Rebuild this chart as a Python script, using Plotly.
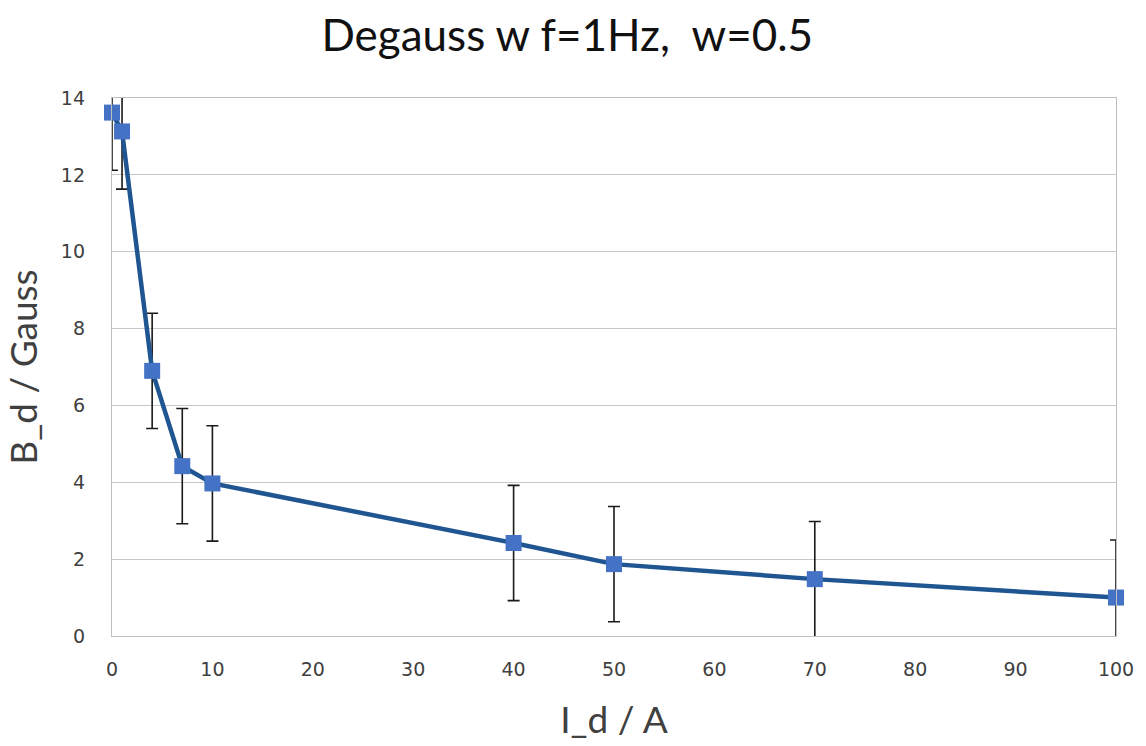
import plotly.graph_objects as go

current_A = [0, 1, 4, 7, 10, 40, 50, 70, 100]
field_gauss = [13.62, 13.13, 6.9, 4.42, 3.97, 2.42, 1.87, 1.48, 1.0]
field_err = [1.5, 1.5, 1.5, 1.5, 1.5, 1.5, 1.5, 1.5, 1.5]
x_ticks = [0, 10, 20, 30, 40, 50, 60, 70, 80, 90, 100]
y_ticks = [0, 2, 4, 6, 8, 10, 12, 14]

FONT = "Lato"
TICKFONT = "DejaVu Sans"
fig = go.Figure()
# error bars (clipped to plot area)
fig.add_trace(go.Scatter(
    x=current_A, y=field_gauss, mode="markers",
    marker=dict(size=1, color="rgba(0,0,0,0)"),
    error_y=dict(type="data", array=field_err, visible=True,
                 color="#1a1a1a", thickness=1.6, width=6),
    cliponaxis=True, showlegend=False, hoverinfo="skip"))
# line + markers
fig.add_trace(go.Scatter(
    x=current_A, y=field_gauss, mode="lines+markers",
    line=dict(color="#1f5591", width=4.5),
    marker=dict(symbol="square", size=16, color="#4472c4"),
    cliponaxis=False, showlegend=False))

fig.update_layout(
    width=1146, height=746,
    paper_bgcolor="white", plot_bgcolor="white",
    margin=dict(l=112, r=28, t=98, b=109),
    title=dict(text="Degauss w f=1Hz,  w=0.5", x=0.495, xanchor="center",
               y=0.952, yanchor="middle",
               font=dict(family=FONT, size=44, color="#111111")),
    xaxis=dict(range=[0, 100], tickvals=x_ticks, ticktext=[str(v) for v in x_ticks],
               showgrid=False, zeroline=False, showline=True, linecolor="#bfbfbf",
               linewidth=1.3, mirror=True, ticks="", ticklen=0, ticklabelstandoff=16,
               tickfont=dict(family=TICKFONT, size=19, color="#404040"),
               title=dict(text="I_d / A", standoff=28,
                          font=dict(family=FONT, size=37, color="#404040"))),
    yaxis=dict(range=[0, 14], tickvals=y_ticks, ticktext=[str(v) for v in y_ticks],
               showgrid=True, gridcolor="#c8c8c8", gridwidth=1.3,
               zeroline=False, showline=True, linecolor="#bfbfbf",
               linewidth=1.3, mirror=True, ticks="", ticklabelstandoff=22,
               tickfont=dict(family=TICKFONT, size=19, color="#404040"),
               title=dict(text="B_d / Gauss", standoff=14,
                          font=dict(family=FONT, size=37, color="#404040"))),
)
fig.write_html("out.html")
